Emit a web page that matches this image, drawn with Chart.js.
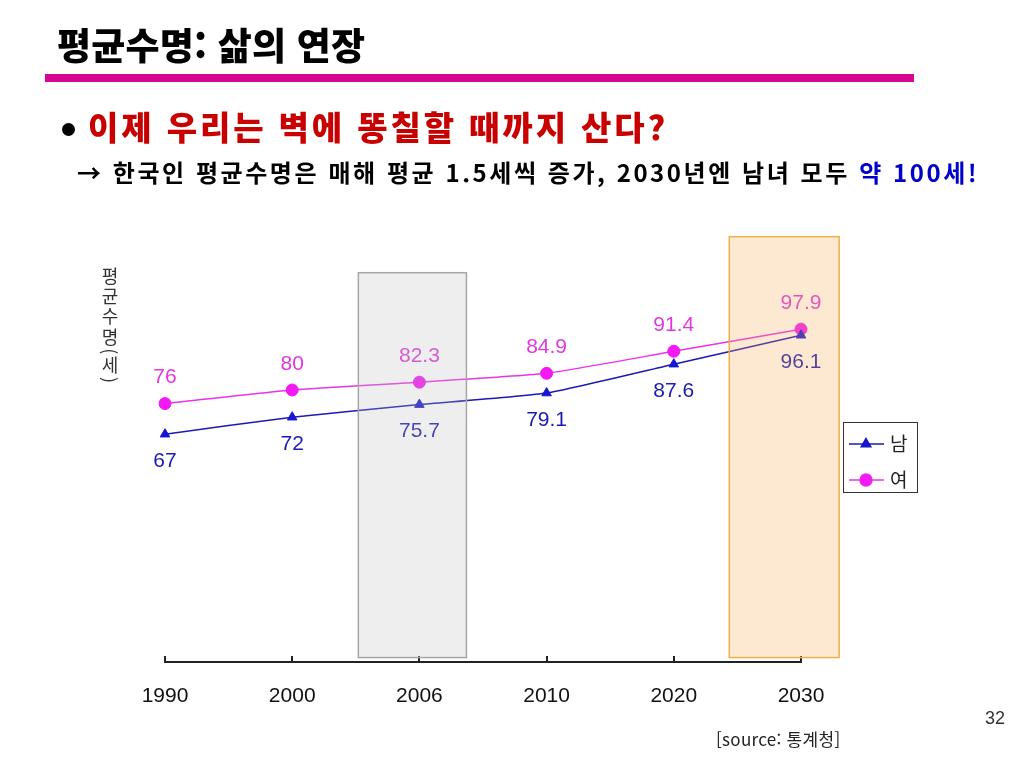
<!DOCTYPE html>
<html lang="ko">
<head>
<meta charset="utf-8">
<title>평균수명: 삶의 연장</title>
<script src="https://cdn.jsdelivr.net/npm/chart.js@4.4.1/dist/chart.umd.min.js"></script>
<style>
  html, body { margin: 0; padding: 0; background: #fff; }
  #stage { position: relative; width: 1024px; height: 768px; overflow: hidden; }
  #chart { position: absolute; left: 0; top: 0; }
  .txt { position: absolute; white-space: nowrap; line-height: 1; font-family: "Noto Sans CJK KR", "Noto Sans", sans-serif; }
  #title { left: 57px; top: 26px; font-size: 37px; font-weight: 900; color: #000; letter-spacing: 0.2px; }
  #rule { position: absolute; left: 45px; top: 74px; width: 869px; height: 8px; background: #d4078e; }
  #bullet { position: absolute; left: 62px; top: 123px; width: 13px; height: 13px; border-radius: 50%; background: #000; }
  #lead { left: 88px; top: 110px; font-size: 33px; font-weight: 900; color: #c80000; letter-spacing: 2.9px; }
  #sub { left: 77px; top: 160px; font-size: 24px; font-weight: 700; color: #000; letter-spacing: 2.55px; }
  #sub .hl { color: #0000cc; }
  #ytitle { left: 101px; top: 267px; font-size: 18px; color: #333; writing-mode: vertical-rl; letter-spacing: 2.3px; }
  #page { left: 985px; top: 709px; font-size: 18px; color: #333; font-family: "Liberation Sans", Arial, sans-serif; }
  #source { left: 716px; top: 730px; font-size: 17px; color: #222; letter-spacing: 0.3px; }
</style>
</head>
<body>
<div id="stage">
  <canvas id="chart" width="1024" height="768"></canvas>
  <div class="txt" id="title">평균수명: 삶의 연장</div>
  <div id="rule"></div>
  <div id="bullet"></div>
  <div class="txt" id="lead">이제 우리는 벽에 똥칠할 때까지 산다?</div>
  <div class="txt" id="sub">→ 한국인 평균수명은 매해 평균 1.5세씩 증가, 2030년엔 남녀 모두 <span class="hl">약 100세!</span></div>
  <div class="txt" id="ytitle">평균수명(세)</div>
  <div class="txt" id="page">32</div>
  <div class="txt" id="source">[source: 통계청]</div>
</div>

<script>
// Years on the x axis
const years = ['1990', '2000', '2006', '2010', '2020', '2030'];

// Life expectancy (years)
const maleValues = [67, 72, 75.7, 79.1, 87.6, 96.1];
const femaleValues = [76, 80, 82.3, 84.9, 91.4, 97.9];

// Labels as printed next to each point
const maleLabels = ['67', '72', '75.7', '79.1', '87.6', '96.1'];
const femaleLabels = ['76', '80', '82.3', '84.9', '91.4', '97.9'];

// Series names
const seriesNames = ['남', '여'];

// Highlight boxes around 2006 and 2030 (category index, offsets, value range)
const bands = [
  { index: 2, from: -0.48, to: 0.37, low: 1.3, high: 114.5, fill: 'rgba(190,190,190,0.26)', stroke: '#a6a6a6' },
  { index: 5, from: -0.564, to: 0.30, low: 1.3, high: 125.1, fill: 'rgba(248,170,90,0.27)', stroke: '#f0b048' },
];

const MALE = '#1a1ab4';
const FEMALE = '#ea34ea';
const NUM_FONT = '"Liberation Sans", Arial, sans-serif';

/**
 * Value labels, highlight boxes and the legend
 */
const decorations = {
  id: 'decorations',
  afterDatasetsDraw(chart) {
    const { ctx, scales: { x, y } } = chart;
    const labelSets = [maleLabels, femaleLabels];
    const shift = [27, -26];
    const colors = [MALE, '#e038de'];

    ctx.save();
    ctx.font = `21px ${NUM_FONT}`;
    ctx.textAlign = 'center';
    ctx.textBaseline = 'middle';
    chart.data.datasets.forEach((ds, i) => {
      const meta = chart.getDatasetMeta(i);
      ctx.fillStyle = colors[i];
      meta.data.forEach((pt, j) => {
        ctx.fillText(labelSets[i][j], pt.x, pt.y + shift[i]);
      });
    });

    // translucent boxes over the lines
    bands.forEach((b) => {
      const left = x.getPixelForValue(b.index + b.from);
      const right = x.getPixelForValue(b.index + b.to);
      const top = y.getPixelForValue(b.high);
      const bottom = y.getPixelForValue(b.low);
      ctx.fillStyle = b.fill;
      ctx.fillRect(left, top, right - left, bottom - top);
      ctx.strokeStyle = b.stroke;
      ctx.lineWidth = 1.5;
      ctx.strokeRect(left, top, right - left, bottom - top);
    });
    ctx.restore();
  },
  afterDraw(chart) {
    const { ctx, chartArea } = chart;
    const bx = chartArea.right + 42;
    const by = 422;

    ctx.save();
    ctx.strokeStyle = '#333';
    ctx.lineWidth = 1;
    ctx.strokeRect(bx + 0.5, by + 0.5, 74, 70);

    ctx.font = '19px "Noto Sans CJK KR", sans-serif';
    ctx.textBaseline = 'middle';
    chart.data.datasets.forEach((ds, i) => {
      const cy = by + 22 + i * 36;
      ctx.strokeStyle = ds.borderColor;
      ctx.lineWidth = 1.5;
      ctx.beginPath();
      ctx.moveTo(bx + 6, cy);
      ctx.lineTo(bx + 41, cy);
      ctx.stroke();
      Chart.helpers.drawPoint(ctx, {
        pointStyle: ds.pointStyle,
        radius: ds.pointRadius,
        borderWidth: 1,
      }, bx + 23, cy);
      ctx.fillStyle = ds.pointBackgroundColor;
      ctx.fill();
      ctx.fillStyle = '#222';
      ctx.fillText(ds.label, bx + 47, cy);
    });
    ctx.restore();
  },
};

const ctx = document.getElementById('chart').getContext('2d');

new Chart(ctx, {
  type: 'line',
  data: {
    labels: years,
    datasets: [
      {
        label: seriesNames[0],
        data: maleValues,
        borderColor: MALE,
        borderWidth: 1.5,
        pointStyle: 'triangle',
        pointRadius: 5.5,
        pointBackgroundColor: '#1616d2',
        pointBorderColor: '#1616d2',
        pointBorderWidth: 1,
        tension: 0.15,
      },
      {
        label: seriesNames[1],
        data: femaleValues,
        borderColor: FEMALE,
        borderWidth: 1.5,
        pointStyle: 'circle',
        pointRadius: 6,
        pointBackgroundColor: '#f21af2',
        pointBorderColor: '#f21af2',
        pointBorderWidth: 1,
        tension: 0.15,
      },
    ],
  },
  options: {
    responsive: false,
    animation: false,
    layout: { padding: { left: 165, right: 223, top: 220, bottom: 0 } },
    plugins: {
      legend: { display: false },
      tooltip: { enabled: false },
    },
    scales: {
      x: {
        type: 'category',
        offset: false,
        grid: { drawOnChartArea: false, tickLength: -6, color: '#222', lineWidth: 2 },
        border: { display: true, color: '#222', width: 2 },
        ticks: {
          color: '#111',
          font: { family: NUM_FONT, size: 21 },
          padding: 28,
          maxRotation: 0,
          autoSkip: false,
        },
        afterFit: (scale) => { scale.height = 106; },
      },
      y: {
        display: false,
        min: 0,
        max: 130,
      },
    },
  },
  plugins: [decorations],
});
</script>
</body>
</html>
